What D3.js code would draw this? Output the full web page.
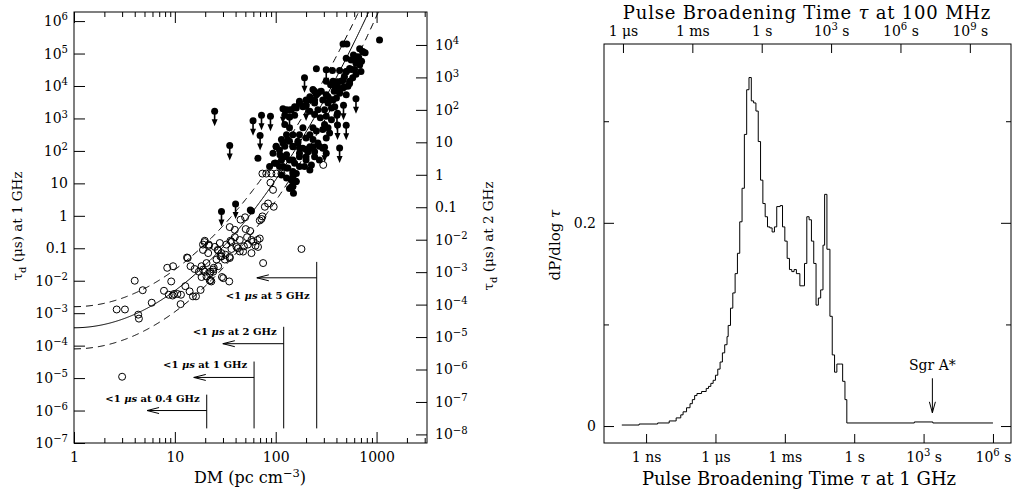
<!DOCTYPE html>
<html>
<head>
<meta charset="utf-8">
<script src="https://cdn.jsdelivr.net/npm/d3@7"></script>
<style>
  body { margin: 0; background: #fff; }
  svg { display: block; font-family: 'DejaVu Serif', serif; }
</style>
</head>
<body>
<div id="chart"></div>
<script>
// ---- left panel: scattering time vs DM ----
const openDM = [4.0, 2.65, 3.2, 4.33, 4.4, 4.8, 5.9, 8.4, 9.6, 9.2, 7.8, 8.7, 9.5, 10.6, 11.5, 11.4, 12.7, 14.0,
  15.1, 13.4, 19.7, 21.7, 14.3, 15.7, 17.3, 19.0, 20.6, 22.5, 24.3, 22.2, 22.6, 23.0, 26.6, 28.3, 29.3, 18.0, 16.2,
  9.8, 73.8, 80.6, 90.6, 101.8, 114, 88.7, 94, 84, 78, 95.5, 73.8, 69.5, 72.2, 44.8, 49.7, 35, 39.3, 50.4, 55.8,
  39.3, 35.6, 52, 57.4, 66, 69.5, 63, 48.4, 42.4, 36.4, 44, 26.9, 29, 31.8, 35, 19.8, 19, 21.8, 13.2, 180, 75, 296,
  146, 157, 30.2, 34.6, 24, 3.0, 19, 21.4, 24.9, 27.9, 32.4, 36.4, 40.8, 47.5, 53, 59.6, 66.8, 57.5, 44, 18.4, 19.8,
  18.4, 22.2, 20.6, 24, 25.9, 26.9, 29, 31.3, 35]
const openTau = [1.0e-2, 1.3e-3, 1.3e-3, 9e-4, 6.8e-4, 5.1e-3, 2.1e-3, 2.5e-2, 2.8e-2, 9.5e-3, 4.9e-3, 3.7e-3, 3.5e-3,
  3.9e-3, 3.7e-3, 1.9e-3, 6.8e-3, 4.7e-3, 3.3e-3, 5e-2, 0.155, 0.13, 2.8e-2, 2.3e-2, 1.9e-2, 2.2e-2, 1.35e-2, 1.9e-2,
  2.5e-2, 1.0e-2, 1.05e-2, 0.95e-2, 8.9e-2, 5.6e-2, 1.3e-2, 5.2e-3, 3.3e-3, 3.9e-3, 20, 20, 20, 20, 20, 10.5, 6.3,
  2.4, 1.9, 1.9, 0.96, 0.72, 0.8, 0.76, 0.9, 0.45, 0.37, 0.39, 0.34, 0.22, 0.17, 0.22, 0.18, 0.18, 0.2, 0.12, 0.115,
  0.1, 0.095, 0.08, 0.085, 0.056, 0.063, 0.054, 0.17, 0.089, 0.12, 0.052, 0.095, 0.035, 37, 8, 11.5, 1.2e-2, 9.5e-3,
  1.9e-2, 1.1e-5, 0.13, 0.071, 0.11, 0.145, 0.13, 0.16, 0.11, 0.079, 0.13, 0.16, 0.11, 0.071, 0.18, 0.028, 0.019,
  0.013, 0.017, 0.035, 0.022, 0.045, 0.028, 0.071, 0.045, 0.05]

const filledDM = [1070, 465, 507, 680, 590, 625, 665, 730, 770, 710, 680, 605, 700, 625, 500, 253, 365, 430, 500,
  560, 580, 540, 480, 445, 410, 464, 380, 430, 500, 520, 317, 350, 370, 283, 317, 357, 400, 234, 253, 218, 243, 172,
  160, 186, 200, 143, 128, 154, 137, 123, 218, 243, 262, 277, 305, 330, 357, 317, 357, 305, 330, 293, 342, 317, 234,
  218, 253, 234, 186, 172, 200, 166, 137, 123, 128, 148, 137, 114, 101, 123, 148, 172, 200, 234, 271, 87, 97, 109,
  128, 148, 143, 160, 148, 137, 94, 109, 128, 148, 172, 200, 218, 243, 226, 114, 148, 160, 56, 57.5, 66.6, 101, 118,
  132, 148, 166, 186, 209, 234, 262, 293, 317, 271, 243, 200, 172, 154, 137, 123, 110, 101, 118, 132, 148, 172, 193,
  218, 114, 128, 143, 137, 154, 172, 186, 200, 218, 243, 262, 293, 330, 370, 385, 410, 430, 480, 540, 464, 410, 385,
  500, 540, 625, 560, 650, 730, 144, 150]
const filledTau = [2.6e5, 1.96e5, 1.96e5, 1.4e5, 9e4, 6.9e4, 7.6e4, 1.12e5, 1.05e5, 5.8e4, 4.4e4, 3.2e4, 2.8e4, 2.3e4,
  7.2e4, 3.4e4, 3e4, 3e4, 2.8e4, 3.2e4, 1.8e4, 1.4e4, 2e4, 1.4e4, 9.8e3, 8.7e3, 6.9e3, 6e3, 5.4e3, 9.8e3, 1.4e4,
  1.1e4, 1.4e4, 6.9e3, 5.4e3, 3.8e3, 4.3e3, 7.8e3, 5.4e3, 3.8e3, 3e3, 3.4e3, 2.1e3, 2.4e3, 2.6e3, 1.86e3, 1.86e3,
  1.26e3, 1.1e3, 1.26e3, 1.66e3, 1.32e3, 1.86e3, 1.05e3, 1.86e3, 3e3, 2.1e3, 1.17e3, 912, 646, 513, 457, 355, 251,
  513, 316, 407, 224, 513, 316, 251, 200, 513, 646, 316, 316, 200, 224, 138, 138, 138, 123, 110, 123, 138, 33, 42,
  33, 30, 20, 13, 11.5, 8, 7, 85, 107, 76, 52, 85, 66, 135, 95, 37, 52, 16, 20, 1.5, 1.4, 59, 135, 174, 219, 135, 174,
  120, 95, 135, 174, 120, 85, 52, 66, 52, 66, 42, 52, 66, 76, 42, 33, 30, 23, 33, 33, 26, 18, 14.5, 13, 1820, 2290,
  2950, 2290, 3720, 4680, 3720, 6030, 3720, 4680, 3720, 2290, 1450, 7590, 9550, 1.2e4, 1.51e4, 1.35e4, 9550, 2.75e4,
  3.47e4, 5e4, 6.3e4, 7.9e4, 1.15e5, 8, 5]

const limitDM = [24.8, 35, 59.6, 72.3, 88.7, 70, 193, 317, 200, 470, 625, 405, 500, 305, 430, 118, 137, 243, 29, 40, 410]
const limitTau = [1660, 148, 850, 1260, 1175, 300, 1.78e4, 3.16e4, 2400, 2570, 4070, 1260, 617, 129, 123, 2000, 1100,
  6900, 1.35, 2.3, 630]

// "<1 us" limits: vertical marker at DM, arrow pointing to lower DM
const cutoffFreq = ['5', '2', '1', '0.4']
const cutoffDM = [255, 120, 61, 20.7]
const cutoffTop = [10 ** -1.42, 10 ** -3.42, 10 ** -4.49, 10 ** -5.51]
const cutoffBottom = 10 ** -6.55
const cutoffArrowTau = [10 ** -1.91, 10 ** -3.94, 10 ** -4.98, 10 ** -6.0]
const cutoffArrowEnd = [65, 29.9, 15.4, 5.3]

// fit: log tau = a + b log DM + c (log DM)^2, dashed at +/- spread
const fitCoef = [-3.45, 0.005, 1.138]
const fitSpread = 0.65
const freqScale2GHz = 2 ** -4.2

// ---- right panel: distribution of pulse broadening times ----
const histLogTau = [-10.05, -9.3, -8.5, -8.0, -7.7, -7.5, -7.4, -7.25, -7.1, -7.0, -6.9, -6.8, -6.6, -6.4, -6.3, -6.2,
  -6.1, -6.0, -5.9, -5.8, -5.7, -5.6, -5.5, -5.45, -5.35, -5.25, -5.15, -5.05, -4.95, -4.85, -4.75, -4.65, -4.55,
  -4.45, -4.35, -4.25, -4.15, -4.05, -3.95, -3.85, -3.75, -3.65, -3.55, -3.45, -3.35, -3.2, -3.1, -3.0, -2.9, -2.8,
  -2.7, -2.6, -2.5, -2.35, -2.15, -2.05, -1.95, -1.85, -1.75, -1.65, -1.55, -1.45, -1.35, -1.28, -1.18, -1.05, -0.95,
  -0.85, -0.75, -0.6, -0.5, -0.4, -0.32, 2.6, 3.4]
const histDensity = [0.001, 0.002, 0.003, 0.005, 0.008, 0.011, 0.014, 0.018, 0.022, 0.026, 0.030, 0.032, 0.034, 0.037,
  0.039, 0.042, 0.045, 0.050, 0.056, 0.063, 0.072, 0.080, 0.088, 0.099, 0.116, 0.131, 0.150, 0.170, 0.201, 0.234,
  0.287, 0.331, 0.343, 0.320, 0.318, 0.310, 0.280, 0.242, 0.219, 0.206, 0.196, 0.195, 0.191, 0.196, 0.216, 0.217,
  0.196, 0.182, 0.165, 0.154, 0.152, 0.154, 0.150, 0.138, 0.160, 0.206, 0.203, 0.182, 0.160, 0.119, 0.126, 0.134,
  0.178, 0.228, 0.174, 0.108, 0.070, 0.053, 0.061, 0.061, 0.044, 0.026, 0.003, 0.004, 0.003]
const histEnd = 6.0
const sgrTau = 10 ** 3.38
const sgrArrow = [0.047, 0.013]

const tauTicks1GHz = [1e-9, 1e-6, 1e-3, 1, 1e3, 1e6]
const tauLabels1GHz = ['1 ns', '1 μs', '1 ms', '1 s', '10^3 s', '10^6 s']
const tauTicks100MHz = [1e-6, 1e-3, 1, 1e3, 1e6, 1e9]
const tauLabels100MHz = ['1 μs', '1 ms', '1 s', '10^3 s', '10^6 s', '10^9 s']
const densityTicks = [0, 0.1, 0.2, 0.3]
const densityLabels = ['0', '', '0.2', '']

// ------------------------------------------------------------
const W = 1015
const H = 493
const svg = d3.select('#chart').append('svg').attr('width', W).attr('height', H)

// "10^3 s" -> 10 + raised 3 + " s"
function rich (sel, str, fs) {
  const m = str.match(/^([^^]*)\^(−?\d+)(.*)$/)
  if (!m) { sel.text(str); return }
  sel.append('tspan').text(m[1])
  sel.append('tspan').attr('dy', -0.42 * fs).attr('font-size', fs * 0.72).text(m[2])
  if (m[3]) sel.append('tspan').attr('dy', 0.42 * fs).text(m[3])
}

function powLabel (v) {
  const e = Math.round(Math.log10(v))
  if (e === 0) return '1'
  if (e === 1) return '10'
  if (e === -1) return '0.1'
  return '10^' + String(e).replace('-', '−')
}

function styleAxis (g, fs) {
  g.attr('font-family', 'DejaVu Serif').attr('font-size', fs)
  g.select('.domain').remove()
  g.selectAll('.tick line').attr('stroke', '#000')
  g.selectAll('.tick text').attr('fill', '#000')
}

// ---------------- left panel ----------------
const L = {left: 74, right: 427, top: 12, bottom: 443}
const x = d3.scaleLog().domain([1, 10 ** 3.5]).range([L.left, L.right])
const y = d3.scaleLog().domain([1e-7, 10 ** 6.28]).range([L.bottom, L.top])
const y2 = d3.scaleLog().domain(y.domain().map(d => d * freqScale2GHz)).range([L.bottom, L.top])

const dmMajor = [1, 10, 100, 1000]
const dmMinor = []
dmMajor.forEach(dec => d3.range(2, 10).forEach(k => { if (dec * k < 10 ** 3.5) dmMinor.push(dec * k) }))
const tauDecades = d3.range(-7, 7).map(e => 10 ** e)
const tau2Decades = d3.range(-8, 5).map(e => 10 ** e)

const gL = svg.append('g')

gL.append('g').attr('transform', `translate(0,${L.bottom})`)
  .call(d3.axisBottom(x).tickValues(dmMajor).tickSize(-11).tickPadding(9).tickFormat(d3.format('d')))
  .call(g => styleAxis(g, 14))
gL.append('g').attr('transform', `translate(0,${L.bottom})`)
  .call(d3.axisBottom(x).tickValues(dmMinor).tickSize(-5).tickFormat(''))
  .call(g => styleAxis(g, 14))
gL.append('g').attr('transform', `translate(0,${L.top})`)
  .call(d3.axisTop(x).tickValues(dmMajor).tickSize(-11).tickFormat(''))
  .call(g => styleAxis(g, 14))
gL.append('g').attr('transform', `translate(0,${L.top})`)
  .call(d3.axisTop(x).tickValues(dmMinor).tickSize(-5).tickFormat(''))
  .call(g => styleAxis(g, 14))

gL.append('g').attr('transform', `translate(${L.left},0)`)
  .call(d3.axisLeft(y).tickValues(tauDecades).tickSize(-11).tickPadding(6).tickFormat(''))
  .call(g => styleAxis(g, 14))
  .call(g => g.selectAll('.tick text').each(function (d) { rich(d3.select(this), powLabel(d), 14) }))
gL.append('g').attr('transform', `translate(${L.right},0)`)
  .call(d3.axisRight(y2).tickValues(tau2Decades).tickSize(-11).tickPadding(8).tickFormat(''))
  .call(g => styleAxis(g, 14))
  .call(g => g.selectAll('.tick text').each(function (d) { rich(d3.select(this), powLabel(d), 14) }))

gL.append('rect')
  .attr('x', L.left).attr('y', L.top)
  .attr('width', L.right - L.left).attr('height', L.bottom - L.top)
  .attr('fill', 'none').attr('stroke', '#000').attr('stroke-width', 1)

svg.append('clipPath').attr('id', 'clipL')
  .append('rect').attr('x', L.left).attr('y', L.top)
  .attr('width', L.right - L.left).attr('height', L.bottom - L.top)

// fit curves
const fitX = d3.range(0, 3.51, 0.01)
const fitLine = off => d3.line()
  .x(v => x(10 ** v))
  .y(v => y(10 ** (fitCoef[0] + fitCoef[1] * v + fitCoef[2] * v * v + off)))
const gFit = gL.append('g').attr('clip-path', 'url(#clipL)').attr('fill', 'none').attr('stroke', '#000')
gFit.append('path').attr('d', fitLine(0)(fitX)).attr('stroke-width', 1)
gFit.append('path').attr('d', fitLine(fitSpread)(fitX)).attr('stroke-width', 1).attr('stroke-dasharray', '7,5')
gFit.append('path').attr('d', fitLine(-fitSpread)(fitX)).attr('stroke-width', 1).attr('stroke-dasharray', '7,5')

// points
const gPts = gL.append('g').attr('clip-path', 'url(#clipL)')
gPts.selectAll('circle.open').data(openDM).join('circle')
  .attr('class', 'open')
  .attr('cx', d => x(d)).attr('cy', (d, i) => y(openTau[i])).attr('r', 3.5)
  .attr('fill', 'none').attr('stroke', '#000').attr('stroke-width', 1)
gPts.selectAll('circle.filled').data(filledDM).join('circle')
  .attr('class', 'filled')
  .attr('cx', d => x(d)).attr('cy', (d, i) => y(filledTau[i])).attr('r', 3.5)
  .attr('fill', '#000')
const lim = gPts.selectAll('g.limit').data(limitDM).join('g')
  .attr('class', 'limit')
  .attr('transform', (d, i) => `translate(${x(d)},${y(limitTau[i])})`)
lim.append('circle').attr('r', 3.5).attr('fill', '#000')
lim.append('path').attr('d', 'M-0.8,2 L-0.8,8 L-3,8 L0,15 L3,8 L0.8,8 L0.8,2 Z').attr('fill', '#000')

// "<1 us at f" markers
const gCut = gL.append('g').attr('stroke', '#000').attr('fill', 'none')
cutoffDM.forEach((dm, i) => {
  const xv = x(dm)
  const xe = x(cutoffArrowEnd[i])
  const ya = y(cutoffArrowTau[i])
  gCut.append('line').attr('x1', xv).attr('x2', xv).attr('y1', y(cutoffTop[i])).attr('y2', y(cutoffBottom))
  gCut.append('line').attr('x1', xv).attr('x2', xe).attr('y1', ya).attr('y2', ya)
  gCut.append('path').attr('d', `M${xe + 12},${ya - 3} L${xe},${ya} L${xe + 12},${ya + 3}`)
  const below = i === 0
  const t = gL.append('text')
    .attr('x', xv - 7).attr('y', below ? ya + 21 : ya - 9)
    .attr('text-anchor', 'end').attr('font-size', 10).attr('font-weight', 'bold')
  t.append('tspan').text('<1 ')
  t.append('tspan').attr('font-style', 'italic').text('μs')
  t.append('tspan').text(` at ${cutoffFreq[i]} GHz`)
})

// axis titles
const dmTitle = svg.append('text').attr('x', 250).attr('y', 483).attr('text-anchor', 'middle').attr('font-size', 16)
dmTitle.append('tspan').text('DM (pc cm')
dmTitle.append('tspan').attr('dy', -6.5).attr('font-size', 11.5).text('−3')
dmTitle.append('tspan').attr('dy', 6.5).text(')')

function tauTitle (sel, freq) {
  sel.append('tspan').text('τ')
  sel.append('tspan').attr('dy', 4).attr('font-size', 10).text('d')
  sel.append('tspan').attr('dy', -4).text(` (μs) at ${freq} GHz`)
}
tauTitle(svg.append('text').attr('transform', 'translate(22,226) rotate(-90)')
  .attr('text-anchor', 'middle').attr('font-size', 13.5), '1')
tauTitle(svg.append('text').attr('transform', 'translate(493,236) rotate(-90)')
  .attr('text-anchor', 'middle').attr('font-size', 13.5), '2')

// ---------------- right panel ----------------
const R = {left: 604, right: 1011, top: 44, bottom: 443}
const xt = d3.scaleLog().domain([10 ** -10.82, 10 ** 6.78]).range([R.left, R.right])
const xt100 = d3.scaleLog().domain(xt.domain().map(d => d * 1e4)).range([R.left, R.right])
const yh = d3.scaleLinear().domain([-0.0167, 0.376]).range([R.bottom, R.top])

const gR = svg.append('g')

gR.append('g').attr('transform', `translate(0,${R.bottom})`)
  .call(d3.axisBottom(xt).tickValues(tauTicks1GHz).tickSize(-9).tickPadding(9).tickFormat(''))
  .call(g => styleAxis(g, 14))
  .call(g => g.selectAll('.tick text').each(function (d, i) { rich(d3.select(this), tauLabels1GHz[i], 14) }))
gR.append('g').attr('transform', `translate(0,${R.top})`)
  .call(d3.axisTop(xt100).tickValues(tauTicks100MHz).tickSize(-9).tickPadding(8).tickFormat(''))
  .call(g => styleAxis(g, 14))
  .call(g => g.selectAll('.tick text').each(function (d, i) { rich(d3.select(this), tauLabels100MHz[i], 14) }))
gR.append('g').attr('transform', `translate(${R.left},0)`)
  .call(d3.axisLeft(yh).tickValues(densityTicks).tickSize(-10).tickPadding(8)
    .tickFormat((d, i) => densityLabels[i]))
  .call(g => styleAxis(g, 14))
  .call(g => g.selectAll('.tick line').attr('x2', (d, i) => densityLabels[i] ? 10 : 5))
gR.append('g').attr('transform', `translate(${R.right},0)`)
  .call(d3.axisRight(yh).tickValues(densityTicks).tickSize(-10).tickFormat(''))
  .call(g => styleAxis(g, 14))
  .call(g => g.selectAll('.tick line').attr('x2', (d, i) => densityLabels[i] ? -10 : -5))

gR.append('rect')
  .attr('x', R.left).attr('y', R.top)
  .attr('width', R.right - R.left).attr('height', R.bottom - R.top)
  .attr('fill', 'none').attr('stroke', '#000').attr('stroke-width', 1)

const histPts = histLogTau.map((v, i) => [10 ** v, histDensity[i]])
histPts.push([10 ** histEnd, histDensity[histDensity.length - 1]])
gR.append('path')
  .attr('d', d3.line().x(d => xt(d[0])).y(d => yh(d[1])).curve(d3.curveStepAfter)(histPts))
  .attr('fill', 'none').attr('stroke', '#000').attr('stroke-width', 1)

// Sgr A* marker
const xs = xt(sgrTau)
gR.append('line').attr('x1', xs).attr('x2', xs).attr('y1', yh(sgrArrow[0])).attr('y2', yh(sgrArrow[1]))
  .attr('stroke', '#000')
gR.append('path')
  .attr('d', `M${xs - 3},${yh(sgrArrow[1]) - 11} L${xs},${yh(sgrArrow[1])} L${xs + 3},${yh(sgrArrow[1]) - 11}`)
  .attr('fill', 'none').attr('stroke', '#000')
gR.append('text').attr('x', xs).attr('y', yh(sgrArrow[0]) - 8)
  .attr('text-anchor', 'middle').attr('font-size', 14).text('Sgr A*')

// titles
const topTitle = svg.append('text').attr('x', 807).attr('y', 19).attr('text-anchor', 'middle')
  .attr('font-size', 18).attr('letter-spacing', 0.8)
topTitle.append('tspan').text('Pulse Broadening Time ')
topTitle.append('tspan').attr('font-style', 'italic').text('τ')
topTitle.append('tspan').text(' at 100 MHz')

const botTitle = svg.append('text').attr('x', 799).attr('y', 485).attr('text-anchor', 'middle')
  .attr('font-size', 18)
botTitle.append('tspan').text('Pulse Broadening Time ')
botTitle.append('tspan').attr('font-style', 'italic').text('τ')
botTitle.append('tspan').text(' at 1 GHz')

const yTitle = svg.append('text').attr('transform', 'translate(560,245) rotate(-90)')
  .attr('text-anchor', 'middle').attr('font-size', 15)
yTitle.append('tspan').text('dP/dlog ')
yTitle.append('tspan').attr('font-style', 'italic').text('τ')
</script>
</body>
</html>
